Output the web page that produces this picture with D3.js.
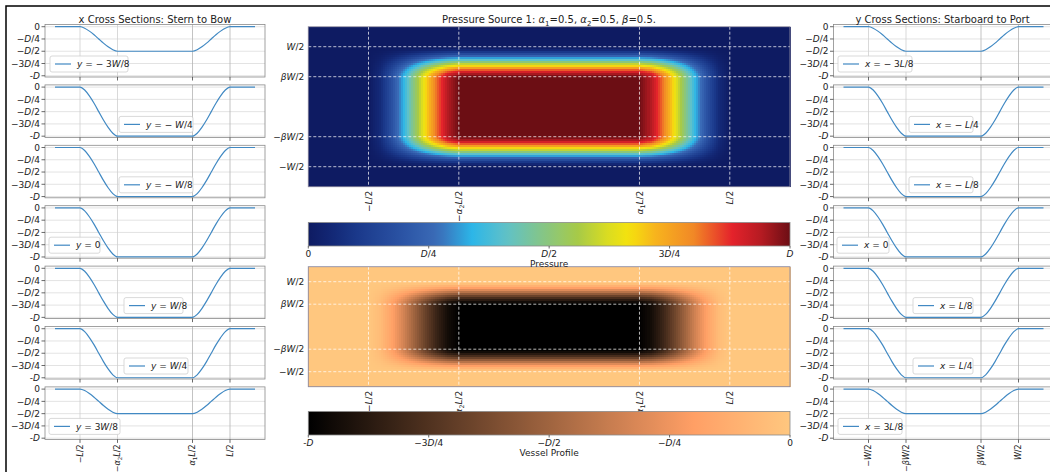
<!DOCTYPE html>
<html>
<head>
<meta charset="utf-8">
<script src="https://cdn.jsdelivr.net/npm/d3@7"></script>
<style>
body { margin: 0; background: #fff; }
svg text { font-family: "DejaVu Sans", sans-serif; fill: #222; }
</style>
</head>
<body>
<svg id="fig" width="1050" height="472"></svg>
<script>
// ---- data ----
const alpha1 = 0.5, alpha2 = 0.5, beta = 0.5;

// shape of the ramp between the outer edge (t=0) and the flat bottom (t=1)
const rampT = [0, 0.125, 0.25, 0.375, 0.5, 0.625, 0.75, 0.875, 1];
const rampDepth = [0, 0.06, 0.18, 0.33, 0.5, 0.67, 0.82, 0.94, 1];

// x cross sections (left column), y in units of W
const ySections = [-3/8, -1/4, -1/8, 0, 1/8, 1/4, 3/8];
const ySectionDepth = [0.5, 1, 1, 1, 1, 1, 0.5];
const ySectionLabels = ["$y$ = − 3$W$/8", "$y$ = − $W$/4", "$y$ = − $W$/8", "$y$ = 0",
  "$y$ = $W$/8", "$y$ = $W$/4", "$y$ = 3$W$/8"];

// y cross sections (right column), x in units of L
const xSections = [-3/8, -1/4, -1/8, 0, 1/8, 1/4, 3/8];
const xSectionDepth = [0.5, 1, 1, 1, 1, 1, 0.5];
const xSectionLabels = ["$x$ = − 3$L$/8", "$x$ = − $L$/4", "$x$ = − $L$/8", "$x$ = 0",
  "$x$ = $L$/8", "$x$ = $L$/4", "$x$ = 3$L$/8"];

const lTicks = [-0.5, -alpha2 / 2, alpha1 / 2, 0.5];
const lTickLabels = ["$−L/2$", "$−α_2L/2$", "$α_1L/2$", "$L/2$"];
const wTicks = [-0.5, -beta / 2, beta / 2, 0.5];
const wTickLabels = ["$−W/2$", "$−βW/2$", "$βW/2$", "$W/2$"];
const depthTicks = [0, -0.25, -0.5, -0.75, -1];
const depthTickLabels = ["$0$", "$−D/4$", "$−D/2$", "$−3D/4$", "$-D$"];
const pressureTicks = [0, 0.25, 0.5, 0.75, 1];
const pressureTickLabels = ["$0$", "$D/4$", "$D/2$", "$3D/4$", "$D$"];
const profileTicks = [-1, -0.75, -0.5, -0.25, 0];
const profileTickLabels = ["$-D$", "$−3D/4$", "$−D/2$", "$−D/4$", "$0$"];

// ---- layout ----
const svg = d3.select("#fig");
const panelTop0 = 24.5, panelStep = 60.4, panelH = 52.5;
const leftCol = [45, 265], rightCol = [833.5, 1053.5];
const leftLegend = [[50, 78], [119, 74], [119, 74], [49, 51], [124, 59], [124, 64], [49, 71]];
const rightLegend = [[838, 74], [909, 64], [909, 64], [837, 52], [913, 60], [913, 60], [838, 64]];
const heatX = [308.3, 790];
const lineColor = "#4189c3";

// mathtext-ish labels: inside $..$ letters are italic, _d is a subscript
function mt(sel, str, fs) {
  let math = false, sub = false;
  for (let i = 0; i < str.length; i++) {
    let c = str[i];
    if (c === "$") { math = !math; continue; }
    const t = sel.append("tspan");
    if (math && c === "_") {
      c = str[++i];
      t.attr("font-size", fs * 0.7).attr("dy", fs * 0.25);
      sub = true;
    } else if (sub) {
      t.attr("dy", -fs * 0.25);
      sub = false;
    }
    if (math && /[A-Za-zα-ω]/.test(c)) t.attr("font-style", "italic");
    t.text(c);
  }
  return sel;
}

// profile knots along one axis (units of L or W), flat bottom between -inL and inR
function knots(inL, inR) {
  const outer = 0.5, xs = [-2/3], ds = [0];
  rampT.forEach((t, i) => { xs.push(-outer + t * (outer - inL)); ds.push(rampDepth[i]); });
  rampT.forEach((t, i) => { xs.push(inR + t * (outer - inR)); ds.push(rampDepth[rampT.length - 1 - i]); });
  xs.push(2/3); ds.push(0);
  return { xs, ds };
}
const kx = knots(alpha2 / 2, alpha1 / 2);
const ky = knots(beta / 2, beta / 2);
const fx = d3.scaleLinear().domain(kx.xs).range(kx.ds).clamp(true);
const fy = d3.scaleLinear().domain(ky.xs).range(ky.ds).clamp(true);

// outer frame
svg.append("rect").attr("x", 6).attr("y", 6).attr("width", 1200).attr("height", 600)
  .attr("fill", "none").attr("stroke", "#000").attr("stroke-width", 1.5);

function crossPanel(col, i, k, depth, label, leg, ticks, tickLabels) {
  const top = panelTop0 + i * panelStep, bottom = top + panelH;
  const sx = d3.scaleLinear([-11/15, 11/15], col);
  const sy = d3.scaleLinear([-1.025, 0.045], [bottom, top]);
  const g = svg.append("g");
  g.append("rect").attr("x", col[0]).attr("y", top).attr("width", col[1] - col[0])
    .attr("height", panelH).attr("fill", "#fff");
  depthTicks.forEach(v => g.append("line").attr("x1", col[0]).attr("x2", col[1])
    .attr("y1", sy(v)).attr("y2", sy(v)).attr("stroke", "#dcdcdc").attr("stroke-width", 0.8));
  ticks.forEach((v, j) => g.append("line").attr("x1", sx(v)).attr("x2", sx(v))
    .attr("y1", top).attr("y2", bottom).attr("stroke", j < 2 ? "#cfcfcf" : "#b4b4b4").attr("stroke-width", 0.8));
  const line = d3.line().x(d => sx(d[0])).y(d => sy(d[1])).curve(d3.curveMonotoneX);
  g.append("path").datum(k.xs.map((x, j) => [x, -depth * k.ds[j]]))
    .attr("d", line).attr("fill", "none").attr("stroke", lineColor).attr("stroke-width", 1.2);
  g.append("rect").attr("x", col[0]).attr("y", top).attr("width", col[1] - col[0])
    .attr("height", panelH).attr("fill", "none").attr("stroke", "#8a8a8a").attr("stroke-width", 0.8);
  depthTicks.forEach((v, j) => {
    g.append("line").attr("x1", col[0] - 3.5).attr("x2", col[0]).attr("y1", sy(v)).attr("y2", sy(v))
      .attr("stroke", "#444").attr("stroke-width", 0.8);
    mt(g.append("text").attr("x", col[0] - 5).attr("y", sy(v) + 3.2).attr("text-anchor", "end")
      .attr("font-size", 9), depthTickLabels[j], 9);
  });
  ticks.forEach((v, j) => {
    g.append("line").attr("x1", sx(v)).attr("x2", sx(v)).attr("y1", bottom).attr("y2", bottom + 3.5)
      .attr("stroke", "#444").attr("stroke-width", 0.8);
    if (i === 6) {
      mt(g.append("text").attr("transform", `translate(${sx(v) + 2.9},${bottom + 5}) rotate(-90)`)
        .attr("text-anchor", "end").attr("font-size", 8), tickLabels[j], 8);
    }
  });
  // legend
  const ly = bottom - 21;
  g.append("rect").attr("x", leg[0]).attr("y", ly).attr("width", leg[1]).attr("height", 16)
    .attr("rx", 2).attr("fill", "#fff").attr("fill-opacity", 0.9).attr("stroke", "#cfcfcf").attr("stroke-width", 0.8);
  g.append("line").attr("x1", leg[0] + 5).attr("x2", leg[0] + 21).attr("y1", ly + 8).attr("y2", ly + 8)
    .attr("stroke", lineColor).attr("stroke-width", 1.2);
  mt(g.append("text").attr("x", leg[0] + 27).attr("y", ly + 11.2).attr("font-size", 9), label, 9);
}

ySections.forEach((y, i) => crossPanel(leftCol, i, kx, ySectionDepth[i], ySectionLabels[i], leftLegend[i], lTicks, lTickLabels));
xSections.forEach((x, i) => crossPanel(rightCol, i, ky, xSectionDepth[i], xSectionLabels[i], rightLegend[i], wTicks, wTickLabels));

svg.append("text").attr("x", (leftCol[0] + leftCol[1]) / 2).attr("y", 22.5).attr("text-anchor", "middle")
  .attr("font-size", 10).text("x Cross Sections: Stern to Bow");
svg.append("text").attr("x", 942.5).attr("y", 22.5).attr("text-anchor", "middle")
  .attr("font-size", 10).text("y Cross Sections: Starboard to Port");

// ---- colour maps ----
const jetStops = [0, 0.05, 0.1, 0.2, 0.27, 0.34, 0.41, 0.48, 0.56, 0.62, 0.665, 0.72, 0.8, 0.88, 0.94, 1];
const jetColors = ["#0e1b62", "#132876", "#1a388a", "#2c55a6", "#3b6cb8", "#2cb6e8", "#5fc1c9", "#82c58c",
  "#a7ca47", "#d9dc22", "#f5e30d", "#f7b41d", "#f18826", "#e4222b", "#b51b22", "#6c0e14"];
const pressureColor = d3.scaleLinear().domain(jetStops).range(jetColors).clamp(true);
const copperColor = v => d3.rgb(Math.min(1, 1.25 * v) * 255, 0.7812 * v * 255, 0.4975 * v * 255).toString();

// ---- heatmaps ----
function heatmap(top, bottom, color) {
  const hx = d3.scaleLinear([-2/3, 2/3], heatX);
  const hy = d3.scaleLinear([-2/3, 2/3], [bottom, top]);
  const nx = 240, ny = Math.round((bottom - top) / 2);
  const dx = (4/3) / nx, dy = (4/3) / ny;
  const g = svg.append("g");
  g.selectAll("rect.cell").data(d3.cross(d3.range(nx), d3.range(ny))).join("rect")
    .attr("x", d => hx(-2/3 + d[0] * dx))
    .attr("y", d => hy(-2/3 + (d[1] + 1) * dy))
    .attr("width", hx(dx) - hx(0) + 0.6)
    .attr("height", hy(0) - hy(dy) + 0.6)
    .attr("fill", d => color(fx(-2/3 + (d[0] + 0.5) * dx) * fy(-2/3 + (d[1] + 0.5) * dy)))
    .attr("shape-rendering", "crispEdges");
  lTicks.forEach(v => g.append("line").attr("x1", hx(v)).attr("x2", hx(v)).attr("y1", top).attr("y2", bottom)
    .attr("stroke", "#fff").attr("stroke-opacity", 0.8).attr("stroke-dasharray", "3,2").attr("stroke-width", 0.9));
  wTicks.forEach(v => g.append("line").attr("x1", heatX[0]).attr("x2", heatX[1]).attr("y1", hy(v)).attr("y2", hy(v))
    .attr("stroke", "#fff").attr("stroke-opacity", 0.8).attr("stroke-dasharray", "3,2").attr("stroke-width", 0.9));
  g.append("rect").attr("x", heatX[0]).attr("y", top).attr("width", heatX[1] - heatX[0]).attr("height", bottom - top)
    .attr("fill", "none").attr("stroke", "#8d8aa0").attr("stroke-width", 0.9);
  wTicks.forEach((v, j) => mt(g.append("text").attr("x", heatX[0] - 4).attr("y", hy(v) + 3.2)
    .attr("text-anchor", "end").attr("font-size", 9), wTickLabels[j], 9));
  lTicks.forEach((v, j) => mt(g.append("text")
    .attr("transform", `translate(${hx(v) + 3.2},${bottom + 4}) rotate(-90)`)
    .attr("text-anchor", "end").attr("font-size", 9), lTickLabels[j], 9));
}

function colorbar(id, top, bottom, domain, color, ticks, tickLabels, title) {
  const cx = d3.scaleLinear(domain, heatX);
  const grad = svg.append("defs").append("linearGradient").attr("id", id);
  d3.range(0, 1.0001, 0.02).forEach(t => grad.append("stop").attr("offset", t)
    .attr("stop-color", color(domain[0] + t * (domain[1] - domain[0]))));
  svg.append("rect").attr("x", heatX[0]).attr("y", top).attr("width", heatX[1] - heatX[0])
    .attr("height", bottom - top).attr("fill", `url(#${id})`).attr("stroke", "#8a8a8a").attr("stroke-width", 0.8);
  ticks.forEach((v, j) => {
    svg.append("line").attr("x1", cx(v)).attr("x2", cx(v)).attr("y1", bottom).attr("y2", bottom + 2.5)
      .attr("stroke", "#444").attr("stroke-width", 0.8);
    mt(svg.append("text").attr("x", cx(v)).attr("y", bottom + 10.5).attr("text-anchor", "middle")
      .attr("font-size", 9), tickLabels[j], 9);
  });
  svg.append("text").attr("x", (heatX[0] + heatX[1]) / 2).attr("y", bottom + 20.5)
    .attr("text-anchor", "middle").attr("font-size", 9).text(title);
}

mt(svg.append("text").attr("x", 549).attr("y", 23).attr("text-anchor", "middle").attr("font-size", 10),
  "Pressure Source 1: $α_1$=0.5, $α_2$=0.5, $β$=0.5.", 10);
heatmap(26.7, 186.7, p => pressureColor(p));
heatmap(266.7, 386.7, p => copperColor(1 - p));
colorbar("cbP", 222.5, 246, [0, 1], v => pressureColor(v), pressureTicks, pressureTickLabels, "Pressure");
colorbar("cbV", 411.5, 435, [-1, 0], v => copperColor(v + 1), profileTicks, profileTickLabels, "Vessel Profile");
</script>
</body>
</html>
